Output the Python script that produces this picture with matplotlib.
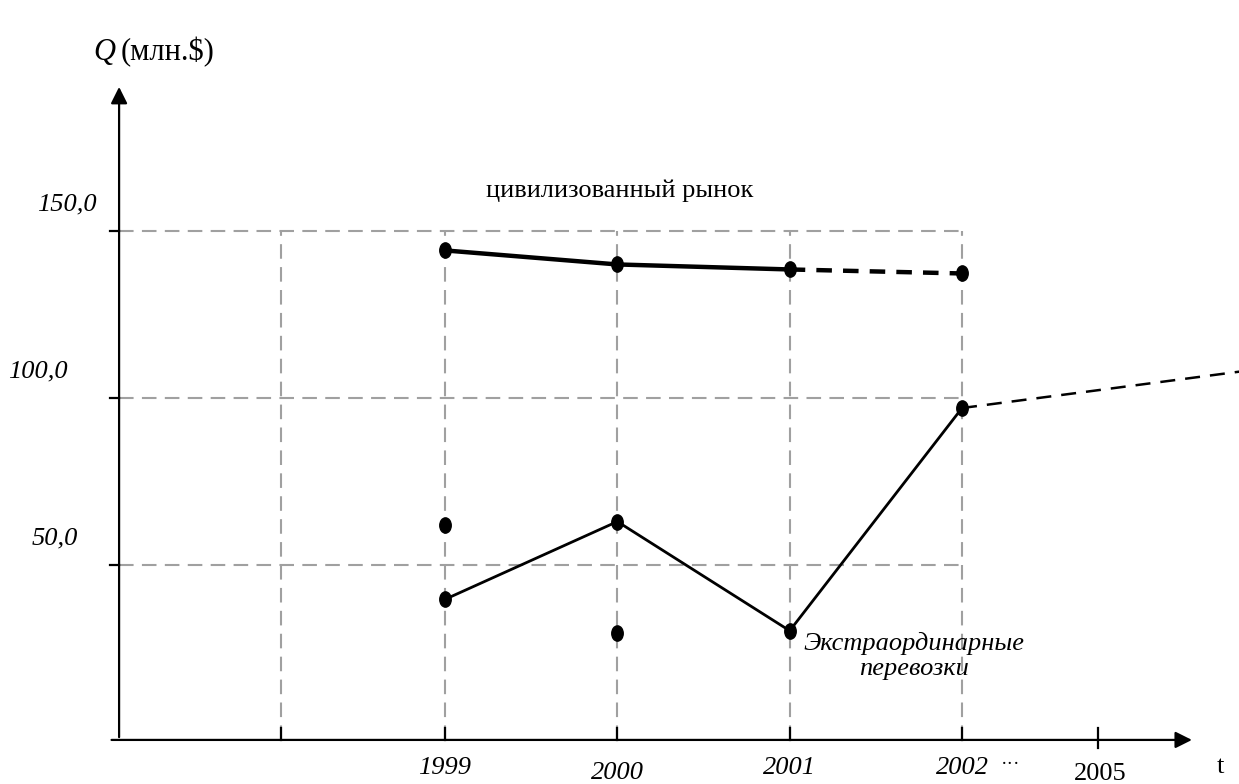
import matplotlib.pyplot as plt
from matplotlib.markers import MarkerStyle
from matplotlib.transforms import Affine2D

# data
years = [1999, 2000, 2001, 2002]
civil = [144.2, 140.0, 138.5, 137.3]          # цивилизованный рынок
extra = [39.7, 63.0, 30.3, 97.0]              # экстраординарные перевозки
extra_trend_x = [2002, 2003.61]
extra_trend_y = [97.0, 107.9]
loose_x = [1999, 2000]                        # separate points
loose_y = [62.1, 29.7]
y_ticks = [150, 100, 50]
y_tick_labels = ['150,0', '100,0', '50,0']
grid_x = [1998.05, 1999, 2000, 2001, 2002]

plt.rcParams['font.family'] = ['Liberation Serif', 'DejaVu Serif']

fig = plt.figure(figsize=(12.39, 7.84), dpi=100)
ax = fig.add_axes([0, 0, 1, 1])
ax.set_xlim(1996.418, 2003.607)
ax.set_ylim(-15.6, 219.2)
ax.axis('off')

x0, y0 = 1997.109, -2.4   # axes origin

# grid
for y in y_ticks:
    ax.plot([x0, 2002], [y, y], color='#a0a0a0', lw=1.5, dashes=(7, 4), zorder=1)
for x in grid_x:
    ax.plot([x, x], [y0, 150], color='#a0a0a0', lw=1.5, dashes=(7, 4), zorder=1)

# axes with arrows
ax.annotate('', xy=(x0, 194), xytext=(x0, y0), arrowprops=dict(arrowstyle='-|>', color='black', lw=1.6, mutation_scale=25))
ax.annotate('', xy=(2003.35, y0), xytext=(x0 - 0.06, y0), arrowprops=dict(arrowstyle='-|>', color='black', lw=1.6, mutation_scale=25))

# ticks
for y in y_ticks:
    ax.plot([x0 - 0.05, x0], [y, y], color='black', lw=1.6)
for x in grid_x:
    ax.plot([x, x], [y0, y0 + 3.5], color='black', lw=1.6)
ax.plot([2002.79, 2002.79], [y0 - 2.5, y0 + 3.5], color='black', lw=1.6)

dot = MarkerStyle('o', transform=Affine2D().scale(0.75, 1.0))

# civilized market
ax.plot(years[:3], civil[:3], color='black', lw=3.2, zorder=3)
ax.plot(years[2:], civil[2:], color='black', lw=3.2, dashes=(3.5, 2.5), zorder=3)
ax.plot(years, civil, ls='none', marker=dot, ms=11, color='black', zorder=4)

# extraordinary
ax.plot(years, extra, color='black', lw=2.0, zorder=3)
ax.plot(extra_trend_x, extra_trend_y, color='black', lw=1.8, dashes=(6, 4), zorder=3)
ax.plot(years, extra, ls='none', marker=dot, ms=11, color='black', zorder=4)
ax.plot(loose_x, loose_y, ls='none', marker=dot, ms=11, color='black', zorder=4)

# y tick labels
label_x = [1996.98, 1996.81, 1996.87]
for y, lab, lx in zip(y_ticks, y_tick_labels, label_x):
    ax.text(lx, y + 8, lab, ha='right', va='center', fontsize=19, style='italic')

# x tick labels
xl_off = [-8.5, -10, -8.5, -8.5]
for x, off in zip(years, xl_off):
    ax.text(x, y0 + off, str(x), ha='center', va='center', fontsize=19, style='italic')
ax.text(2002.28, y0 - 7.5, '\u00b7\u00b7\u00b7', ha='center', va='center', fontsize=14)
ax.text(2002.8, y0 - 10.3, '2005', ha='center', va='center', fontsize=19)
ax.text(2003.5, y0 - 8, 't', ha='center', va='center', fontsize=19)

# axis title
ax.text(1996.958, 203.5, 'Q', ha='left', va='center', fontsize=22, style='italic')
ax.text(1997.12, 203.5, '(млн.$)', ha='left', va='center', fontsize=22)

# annotations
ax.text(2000.016, 162, 'цивилизованный рынок', ha='center', va='center', fontsize=19)
ax.text(2001.72, 29.8, 'Экстраординарные\nперевозки', ha='center', va='top', fontsize=19,
        style='italic', linespacing=1.15)

fig.savefig('out.png', dpi=100)
